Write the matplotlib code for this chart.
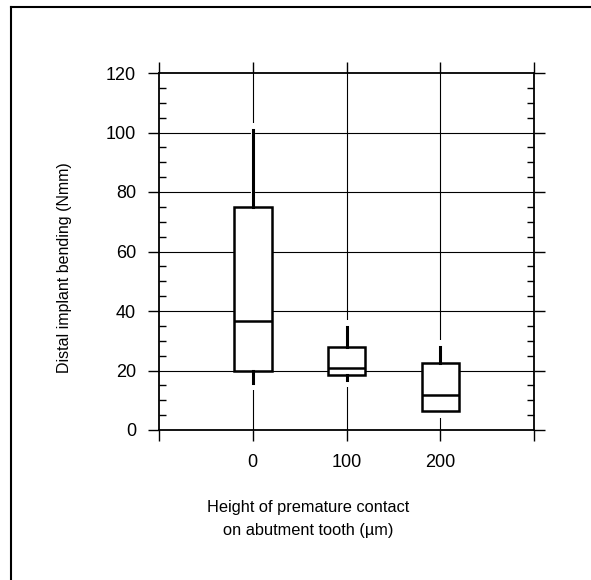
import matplotlib
matplotlib.use("Agg")
import matplotlib.pyplot as plt
from matplotlib.lines import Line2D
from matplotlib.ticker import MultipleLocator, FixedLocator, FixedFormatter

plt.rcParams['font.family'] = ['Liberation Sans', 'DejaVu Sans']

# ---- data ----
categories = [0, 100, 200]
whisker_low = [15.7, 16.7, 6.5]
q1 = [20.0, 18.6, 6.5]
median = [36.5, 20.9, 11.7]
q3 = [75.0, 27.8, 22.4]
whisker_high = [100.8, 34.7, 28.0]
xtick_labels = ["0", "100", "200"]
ylabel = "Distal implant bending (Nmm)"
xlabel = "Height of premature contact\non abutment tooth (\u00b5m)"

W, H = 591, 580
fig = plt.figure(figsize=(W / 100, H / 100), dpi=100)
ax = fig.add_axes([159 / W, 1 - 430 / H, (534 - 159) / W, (430 - 73) / H])

ax.set_xlim(-100, 300)
ax.set_ylim(0, 120)

# gridlines
for y in range(20, 120, 20):
    ax.axhline(y, color='black', lw=0.8, zorder=1)
for x in categories:
    ax.axvline(x, color='black', lw=0.8, zorder=1)

# white gaps in the vertical gridlines around whiskers
gap = 2.4
for x, lo, hi in zip(categories, whisker_low, whisker_high):
    ax.vlines(x, lo - gap, hi + gap, color='white', lw=3, zorder=1.5)

stats = []
for lo, a, m, b, hi in zip(whisker_low, q1, median, q3, whisker_high):
    stats.append(dict(whislo=lo, q1=a, med=m, q3=b, whishi=hi, fliers=[]))

ax.bxp(stats, positions=categories, widths=40, showcaps=False,
       showfliers=False, patch_artist=True, manage_ticks=False,
       boxprops=dict(facecolor='white', edgecolor='black', linewidth=1.8),
       whiskerprops=dict(color='black', linewidth=2.2),
       medianprops=dict(color='black', linewidth=1.8),
       zorder=3)

# ticks
ax.xaxis.set_major_locator(FixedLocator([-100] + categories + [300]))
ax.xaxis.set_major_formatter(FixedFormatter([""] + xtick_labels + [""]))
ax.yaxis.set_major_locator(MultipleLocator(20))
ax.yaxis.set_minor_locator(MultipleLocator(5))
ax.tick_params(axis='both', which='major', direction='out', length=8,
               width=1.0, top=True, right=True, labelsize=13)
ax.tick_params(axis='y', which='major', pad=8.6)
ax.tick_params(axis='x', which='major', pad=9.5)
ax.tick_params(axis='y', which='minor', direction='in', length=5,
               width=1.0, left=True, right=True)
for s in ax.spines.values():
    s.set_linewidth(1.3)

fig.text(65 / W, 1 - 268 / H, ylabel, ha='center', va='center',
         rotation=90, fontsize=11.5)
fig.text(308 / W, 1 - 519 / H, xlabel, ha='center', va='center',
         fontsize=11.8, linespacing=1.6)

# figure frame: left and top lines
fig.add_artist(Line2D([11 / W, 11 / W], [0, 1 - 7 / H], color='black', lw=1.5,
                      transform=fig.transFigure))
fig.add_artist(Line2D([11 / W, 1], [1 - 7 / H, 1 - 7 / H], color='black', lw=1.5,
                      transform=fig.transFigure))

fig.savefig("out.png", dpi=100)
